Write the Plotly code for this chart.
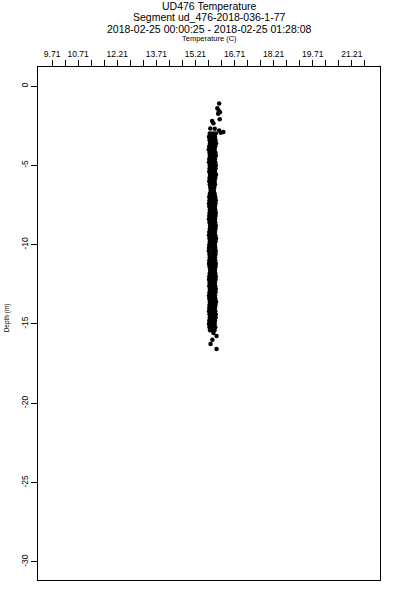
import plotly.graph_objects as go

# ---- data ----
top_temp = [16.12, 16.05, 16.10, 16.15, 16.08, 15.85, 16.14, 15.90, 15.78, 15.95, 16.12, 16.28, 16.18]
top_depth = [-1.10, -1.40, -1.55, -1.65, -1.75, -2.20, -2.10, -2.35, -2.68, -2.70, -2.80, -2.90, -2.95]

col_depth = [-3.0, -3.2, -3.4, -3.6, -3.8, -4.0, -4.2, -4.4, -4.6, -4.8,
             -5.0, -5.2, -5.4, -5.6, -5.8, -6.0, -6.2, -6.4, -6.6, -6.8,
             -7.0, -7.2, -7.4, -7.6, -7.8, -8.0, -8.2, -8.4, -8.6, -8.8,
             -9.0, -9.2, -9.4, -9.6, -9.8, -10.0, -10.2, -10.4, -10.6, -10.8,
             -11.0, -11.2, -11.4, -11.6, -11.8, -12.0, -12.2, -12.4, -12.6, -12.8,
             -13.0, -13.2, -13.4, -13.6, -13.8, -14.0, -14.2, -14.4, -14.6, -14.8,
             -15.0, -15.2, -15.4]
col_temp_left = [15.76, 15.73, 15.75, 15.77, 15.74, 15.72, 15.75, 15.76, 15.74, 15.73,
                 15.76, 15.75, 15.74, 15.77, 15.75, 15.74, 15.76, 15.78, 15.79, 15.76,
                 15.74, 15.75, 15.73, 15.74, 15.76, 15.75, 15.74, 15.73, 15.75, 15.77,
                 15.76, 15.74, 15.73, 15.75, 15.76, 15.74, 15.73, 15.72, 15.75, 15.76,
                 15.74, 15.73, 15.75, 15.77, 15.76, 15.74, 15.73, 15.75, 15.74, 15.76,
                 15.75, 15.73, 15.74, 15.76, 15.75, 15.74, 15.73, 15.75, 15.76, 15.74,
                 15.73, 15.75, 15.77]
col_temp_mid = [15.87, 15.85, 15.86, 15.88, 15.86, 15.84, 15.86, 15.87, 15.85, 15.86,
                15.87, 15.86, 15.85, 15.88, 15.86, 15.85, 15.86, 15.86, 15.85, 15.86,
                15.85, 15.87, 15.86, 15.85, 15.86, 15.87, 15.86, 15.85, 15.86, 15.88,
                15.87, 15.85, 15.86, 15.87, 15.86, 15.85, 15.85, 15.86, 15.87, 15.86,
                15.85, 15.86, 15.87, 15.86, 15.86, 15.87, 15.85, 15.86, 15.85, 15.87,
                15.86, 15.85, 15.86, 15.88, 15.86, 15.85, 15.85, 15.87, 15.87, 15.85,
                15.84, 15.86, 15.86]
col_temp_right = [15.99, 15.96, 15.98, 16.00, 15.97, 15.95, 15.98, 15.99, 15.96, 15.97,
                  15.99, 15.98, 15.96, 16.00, 15.97, 15.95, 15.96, 15.93, 15.92, 15.95,
                  15.97, 15.99, 15.98, 15.96, 15.97, 15.99, 15.98, 15.96, 15.97, 15.99,
                  15.98, 15.96, 15.97, 16.00, 15.98, 15.96, 15.97, 15.99, 15.98, 15.96,
                  15.97, 15.99, 15.98, 15.96, 15.97, 15.99, 15.98, 15.96, 15.97, 15.99,
                  15.98, 15.96, 15.97, 16.00, 15.98, 15.96, 15.97, 15.99, 15.98, 15.96,
                  15.95, 15.97, 15.94]

tail_temp = [15.90, 16.02, 15.86, 15.79, 16.02]
tail_depth = [-15.57, -15.76, -16.00, -16.27, -16.58]

x_tick_vals = [9.71, 10.21, 10.71, 11.21, 11.71, 12.21, 12.71, 13.21, 13.71, 14.21,
               14.71, 15.21, 15.71, 16.21, 16.71, 17.21, 17.71, 18.21, 18.71, 19.21,
               19.71, 20.21, 20.71, 21.21, 21.71]
x_tick_text = ["9.71", "", "10.71", "", "", "12.21", "", "", "13.71", "",
               "", "15.21", "", "", "16.71", "", "", "18.21", "", "",
               "19.71", "", "", "21.21", ""]
y_tick_vals = [0, -5, -10, -15, -20, -25, -30]
y_tick_text = ["0", "-5", "-10", "-15", "-20", "-25", "-30"]

title_lines = ["UD476 Temperature",
               "Segment ud_476-2018-036-1-77",
               "2018-02-25 00:00:25 - 2018-02-25 01:28:08"]

temps = top_temp + col_temp_left + col_temp_mid + col_temp_right + tail_temp
depths = top_depth + col_depth + col_depth + col_depth + tail_depth

FONT = "Liberation Sans, Arial, sans-serif"

fig = go.Figure()
fig.add_trace(go.Scatter(x=temps, y=depths, mode="markers",
                         marker=dict(color="black", size=4.5, line=dict(width=0)),
                         showlegend=False, hoverinfo="skip"))

fig.update_layout(
    width=400, height=600,
    margin=dict(l=38, r=20, t=67, b=20, autoexpand=False),
    paper_bgcolor="white", plot_bgcolor="white",
    font=dict(family=FONT, color="black"),
    xaxis=dict(side="top", range=[9.17, 22.29], tickmode="array",
               tickvals=x_tick_vals, ticktext=x_tick_text,
               ticks="outside", ticklen=6, tickwidth=1, tickcolor="black",
               showline=True, linecolor="black", linewidth=1, mirror=True,
               showgrid=False, zeroline=False, automargin=False,
               tickfont=dict(size=8.5, family=FONT)),
    yaxis=dict(range=[-31.14, 1.2], tickmode="array",
               tickvals=y_tick_vals, ticktext=y_tick_text, tickangle=-90,
               ticks="outside", ticklen=6, tickwidth=1, tickcolor="black",
               showline=True, linecolor="black", linewidth=1, mirror=True,
               showgrid=False, zeroline=False, automargin=False,
               tickfont=dict(size=8.5, family=FONT)),
)

# paper y for a pixel row p: (580 - p) / 513 ; paper x for column c: (c - 38) / 342
ann_px = [6.5, 17.5, 29.0]
for txt, p in zip(title_lines, ann_px):
    fig.add_annotation(text=txt, x=0.5, y=(580 - p) / 513, xref="paper", yref="paper",
                       showarrow=False, xanchor="center", yanchor="middle",
                       font=dict(size=10.5, family=FONT, color="black"))
fig.add_annotation(text="Temperature (C)", x=0.5, y=(580 - 38.5) / 513, xref="paper", yref="paper",
                   showarrow=False, xanchor="center", yanchor="middle",
                   font=dict(size=7.5, family=FONT, color="black"))
fig.add_annotation(text="Depth (m)", x=(7 - 38) / 342, y=0.51, xref="paper", yref="paper",
                   showarrow=False, xanchor="center", yanchor="middle", textangle=-90,
                   font=dict(size=6.5, family=FONT, color="black"))

fig.write_html("out.html",
               config={"displayModeBar": False, "staticPlot": True},
               post_script="document.body.style.margin='0';document.body.style.overflow='hidden';")
